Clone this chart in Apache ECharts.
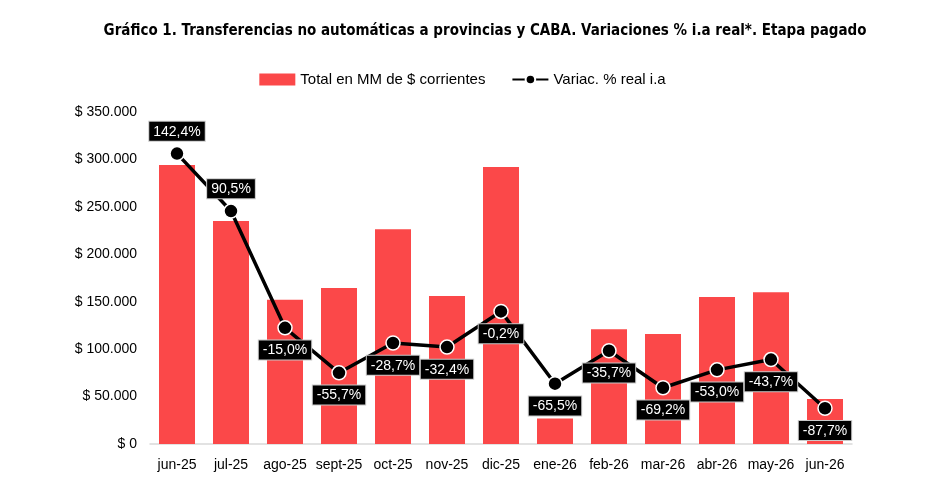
<!DOCTYPE html>
<html>
<head>
<meta charset="utf-8">
<script src="https://cdn.jsdelivr.net/npm/echarts@6/dist/echarts.min.js"></script>
<style>
  html, body { margin: 0; padding: 0; background: #fff; }
  #chart { width: 925px; height: 478px; }
</style>
</head>
<body>
<div id="chart"></div>
<script>
const months = ['jun-25', 'jul-25', 'ago-25', 'sept-25', 'oct-25', 'nov-25', 'dic-25', 'ene-26', 'feb-26', 'mar-26', 'abr-26', 'may-26', 'jun-26']
const totalMM = [294000, 235000, 152000, 164500, 226500, 156000, 292000, 27000, 121000, 116000, 155000, 160000, 47500]
const variacion = [142.4, 90.5, -15.0, -55.7, -28.7, -32.4, -0.2, -65.5, -35.7, -69.2, -53.0, -43.7, -87.7]

const fmtPeso = (v) => '$ ' + String(v).replace(/\B(?=(\d{3})+(?!\d))/g, '.')
const fmtPct = (v) => v.toFixed(1).replace('.', ',') + '%'

const myChart = echarts.init(document.getElementById('chart'))

const option = {
  animation: false,
  title: {
    text: 'Gráfico 1. Transferencias no automáticas a provincias y CABA. Variaciones % i.a real*. Etapa pagado',
    left: 480,
    textAlign: 'center',
    top: 19,
    textStyle: {
      color: '#000',
      fontFamily: 'DejaVu Sans Condensed, sans-serif',
      fontSize: 15,
      fontWeight: 'bold'
    }
  },
  legend: {
    top: 67,
    left: 'center',
    itemGap: 26,
    itemWidth: 36,
    itemHeight: 12,
    textStyle: {
      color: '#000',
      fontFamily: 'Liberation Sans, Arial, sans-serif',
      fontSize: 15
    },
    data: [
      { name: 'Total en MM de $ corrientes', icon: 'rect' },
      { name: 'Variac. % real i.a' }
    ]
  },
  grid: {
    left: 150,
    right: 73,
    top: 112,
    bottom: 34
  },
  xAxis: {
    type: 'category',
    data: months,
    axisLine: { lineStyle: { color: '#d9d9d9', width: 1.5 } },
    axisTick: { show: false },
    axisLabel: {
      interval: 0,
      color: '#000',
      fontFamily: 'Liberation Sans, Arial, sans-serif',
      fontSize: 14,
      margin: 14
    }
  },
  yAxis: [
    {
      type: 'value',
      min: 0,
      max: 350000,
      interval: 50000,
      splitLine: { show: false },
      axisLine: { show: false },
      axisTick: { show: false },
      axisLabel: {
        color: '#000',
        fontFamily: 'Liberation Sans, Arial, sans-serif',
        fontSize: 14,
        margin: 13,
        formatter: fmtPeso
      }
    },
    {
      type: 'value',
      min: -120,
      max: 180,
      interval: 60,
      show: false,
      splitLine: { show: false }
    }
  ],
  series: [
    {
      name: 'Total en MM de $ corrientes',
      type: 'bar',
      data: totalMM,
      barWidth: 36,
      itemStyle: { color: '#fb4849' }
    },
    {
      name: 'Variac. % real i.a',
      type: 'line',
      yAxisIndex: 1,
      z: 5,
      data: variacion.map((v) => ({
        value: v,
        label: { position: v > 50 ? 'top' : 'bottom' }
      })),
      lineStyle: { color: '#000', width: 3.5 },
      itemStyle: { color: '#000', borderColor: '#fff', borderWidth: 1.5 },
      symbol: 'circle',
      symbolSize: 14,
      label: {
        show: true,
        distance: 5,
        formatter: (p) => fmtPct(p.value),
        color: '#fff',
        backgroundColor: '#000',
        borderColor: '#c8c8c8',
        borderWidth: 1,
        padding: [3, 4, 2, 4],
        fontFamily: 'Liberation Sans, Arial, sans-serif',
        fontSize: 14
      }
    }
  ]
}

myChart.setOption(option)
</script>
</body>
</html>
